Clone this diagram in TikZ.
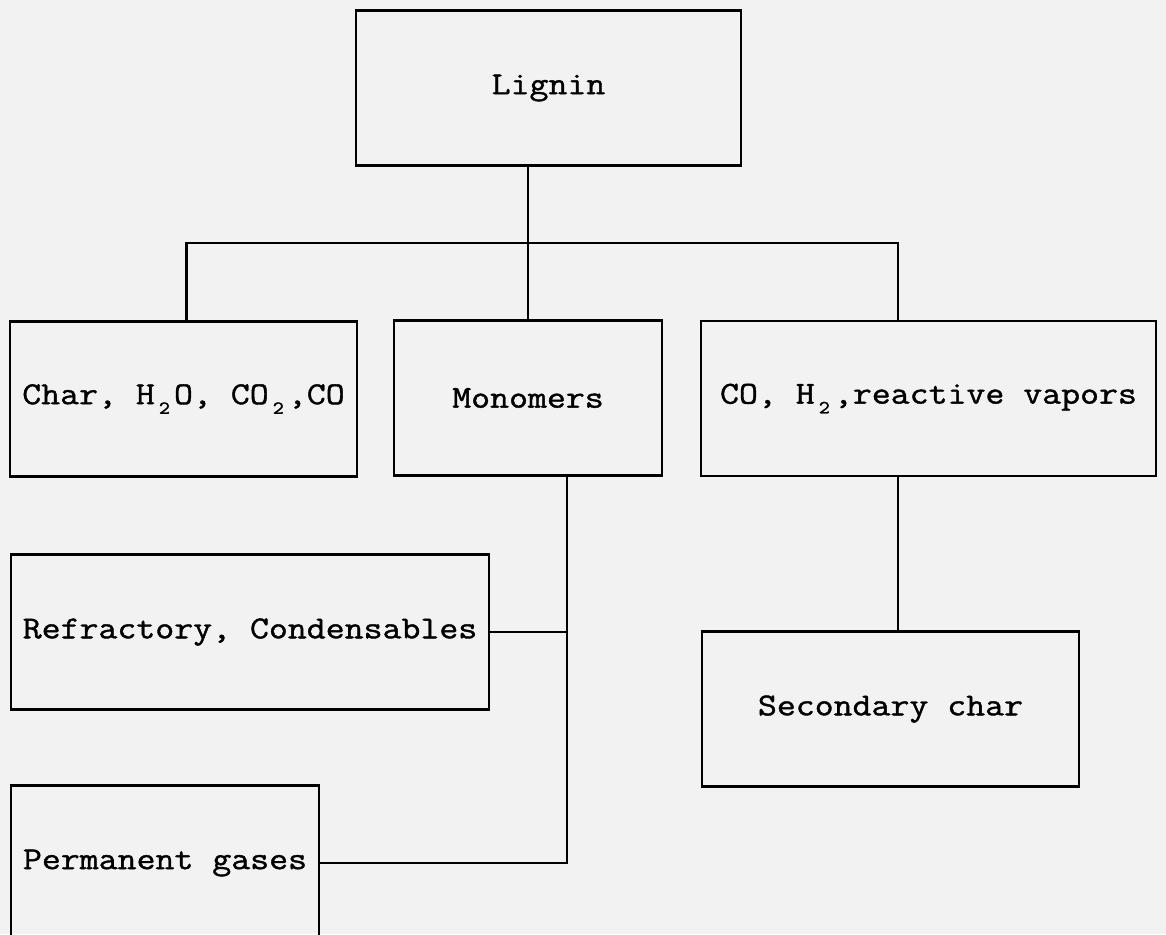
\documentclass[tikz,border=0pt]{standalone}
\usepackage{fontspec}
\setmonofont[FakeStretch=1.15,FakeBold=1.2]{Latin Modern Mono}
\newcommand{\lowsub}[1]{\makebox[0.6em]{\raisebox{-5.5pt}{\fontsize{10.5}{10.5}\selectfont #1}}}

\begin{document}
\begin{tikzpicture}[x=0.02cm,y=-0.02cm,line width=1.5pt,
  every node/.style={font=\fontsize{18.2}{22}\selectfont\ttfamily},
  box/.style={draw,rectangle,inner sep=0pt,minimum height=3.1cm}]
  \fill[black!5] (0,0) rectangle (1166,934);
  \useasboundingbox (0,0) rectangle (1166,934);
  \node[box,minimum width=7.7cm] (lignin) at (548.5,88) {Lignin};
  \node[box,minimum width=6.94cm] (char) at (183.5,399) {Char, H\lowsub{2}O, CO\lowsub{2},CO};
  \node[box,minimum width=5.36cm] (mono) at (528,398) {Monomers};
  \node[box,minimum width=9.1cm] (covap) at (928.5,398.5) {CO, H\lowsub{2},reactive vapors};
  \node[box,minimum width=9.56cm] (refr) at (250,632) {Refractory, Condensables};
  \node[box,minimum width=6.16cm] (perm) at (165,863) {Permanent gases};
  \node[box,minimum width=7.54cm] (sec) at (890.5,709) {Secondary char};
  \coordinate (rbus) at (898,243);
  \coordinate (mbus) at (567,863);
  \path (mono.north |- lignin.south) edge (mono.north);
  \draw ([xshift=0.06cm]char.north) |- (rbus) -- (rbus |- covap.north);
  \draw (rbus |- covap.south) -- (rbus |- sec.north);
  \draw (mbus |- mono.south) -- (mbus) -- (perm.east);
  \draw (refr.east) -- (refr.east -| mbus);
\end{tikzpicture}
\end{document}
